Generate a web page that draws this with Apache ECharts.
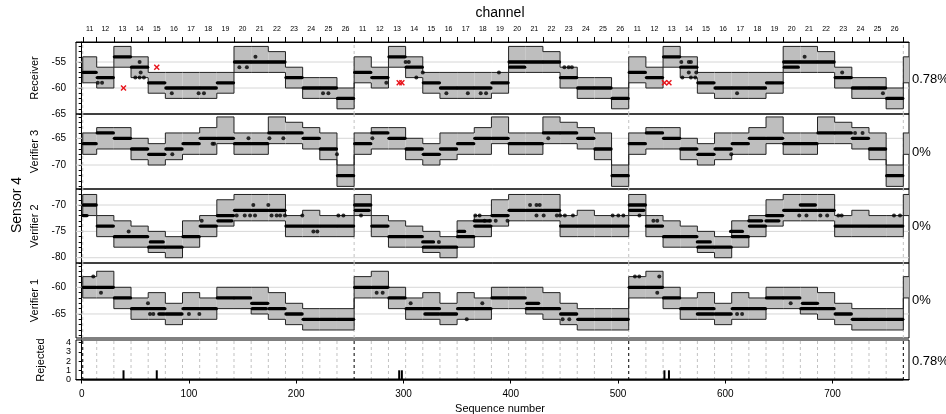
<!DOCTYPE html>
<html>
<head>
<meta charset="utf-8">
<script src="https://cdn.jsdelivr.net/npm/echarts@6/dist/echarts.min.js"></script>
<style>
  html, body { margin: 0; padding: 0; background: #fff; }
  #chart-container { width: 946px; height: 414px; }
</style>
</head>
<body>
<div id="chart-container"></div>
<script>
var dom = document.getElementById("chart-container");
var myChart = echarts.init(dom, null, { renderer: "canvas" });
var FONT = "'Liberation Sans', Arial, sans-serif";

// channel hop order, 16 packets per channel, 3 sweeps + start of a 4th
var channelNames = ["11", "12", "13", "14", "15", "16", "17", "18", "19", "20", "21", "22", "23", "24", "25", "26"];
var segStarts = [1, 14, 30, 46, 62, 78, 94, 110, 126, 142, 158, 174, 190, 206, 222, 238,
  254, 270, 286, 302, 318, 334, 350, 366, 382, 398, 414, 430, 446, 462, 478, 494,
  510, 526, 542, 558, 574, 590, 606, 622, 638, 654, 670, 686, 702, 718, 734, 750, 766];
var segEndLast = 772;
var cycleStarts = [1, 254, 510, 766];
var seqTicks = [0, 100, 200, 300, 400, 500, 600, 700];

// per-channel bands (upper / lower), dBm
var recvHi = [-54, -56, -52, -54, -57, -57, -57, -57, -57, -52, -52, -53, -56, -58, -58, -60];
var recvLo = [-59, -60, -56, -58, -61, -62, -62, -62, -61, -57, -57, -57, -60, -62, -62, -64];
var v3Hi = [-64, -63, -63, -65, -66, -64, -64, -63, -61, -64, -64, -61, -62, -63, -64, -70];
var v3Lo = [-68, -67, -67, -69, -70, -69, -68, -68, -66, -68, -68, -66, -66, -67, -69, -74];
var v2Hi = [-68, -72, -73, -74, -75, -76, -73, -72, -69, -68, -68, -68, -72, -71, -72, -72];
var v2Lo = [-72, -76, -78, -78, -79, -80, -78, -76, -74, -73, -73, -73, -76, -76, -76, -76];
var v1Hi = [-58, -57, -60, -62, -61, -63, -61, -62, -60, -60, -60, -61, -63, -64, -64, -64];
var v1Lo = [-62, -62, -64, -66, -66, -67, -66, -66, -64, -64, -65, -66, -67, -68, -68, -68];

// dominant RSSI per channel visit (48 visits)
var recvModes = [
  -57, -58, -54, -56, -59, -60, -60, -60, -59, -55, -55, -55, -58, -60, -60, -62,
  -57, -58, -54, -56, -59, -60, -60, -60, -59, -55, -55, -55, -58, -60, -60, -62,
  -57, -58, -54, -56, -59, -60, -60, -60, -59, -55, -55, -55, -58, -60, -60, -62];
var v3Modes = [
  -66, -64, -65, -67, -68, -67, -66, -65, -65, -66, -66, -64, -64, -65, -67, -72,
  -66, -64, -65, -67, -68, -67, -66, -65, -65, -66, -66, -64, -64, -65, -67, -72,
  -66, -64, -65, -67, -68, -67, -66, -65, -65, -66, -66, -64, -64, -65, -67, -72];
var v2Modes = [
  -70, -74, -76, -76, -78, -78, -76, -74, -72, -71, -71, -71, -74, -74, -74, -74,
  -70, -74, -76, -76, -78, -78, -76, -74, -72, -71, -71, -71, -74, -74, -74, -74,
  -70, -74, -76, -76, -78, -78, -76, -74, -72, -71, -71, -71, -74, -74, -74, -74];
var v1Modes = [
  -60, -60, -62, -64, -64, -65, -64, -64, -62, -62, -63, -64, -65, -66, -66, -66,
  -60, -60, -62, -64, -64, -65, -64, -64, -62, -62, -64, -64, -65, -66, -66, -66,
  -60, -60, -62, -64, -64, -65, -64, -64, -62, -62, -64, -64, -65, -66, -66, -66];

// secondary dense runs [fromSeq, toSeq, value]
var recvRuns = [[399, 413, -56], [655, 668, -56]];
var v3Runs = [];
var v2Runs = [[1, 5, -72], [64, 76, -77], [127, 140, -73], [255, 268, -71], [318, 328, -77],
  [351, 357, -75], [366, 380, -73], [511, 524, -71], [574, 586, -77], [605, 616, -75],
  [622, 634, -73], [638, 650, -73], [670, 684, -70]];
var v1Runs = [[72, 77, -65], [159, 172, -64], [320, 333, -65], [415, 426, -63], [574, 589, -65], [672, 686, -63]];

// single readings [seq, value]
var recvDots = [[15, -59], [19, -59], [54, -55], [55, -57], [50, -58], [54, -58], [58, -58], [84, -61],
  [109, -61], [114, -61], [147, -56], [154, -56], [162, -54], [225, -61], [230, -61],
  [284, -59], [302, -55], [305, -55], [312, -58], [318, -57], [340, -61], [360, -61], [372, -61],
  [377, -61], [389, -57], [450, -56], [454, -56], [457, -56],
  [559, -55], [566, -55], [568, -55], [566, -57], [573, -57], [560, -58], [568, -58], [572, -58],
  [611, -61], [674, -54], [709, -57], [747, -61]];
var v3Dots = [[84.5, -68], [122, -66], [123.5, -66], [155.5, -65], [175, -65], [188, -65], [238, -68],
  [271, -65], [435, -65], [605.6, -68], [721, -64], [728, -64]];
var v2Dots = [[43.8, -75], [111.9, -73], [144.5, -72], [152, -72], [157, -72], [161.6, -72], [177, -72],
  [181.8, -72], [185, -72], [189.5, -72], [160, -70], [174, -70], [216, -75], [219.7, -75],
  [205.7, -72], [239.3, -72], [244, -72],
  [260.4, -72], [333, -77], [367, -72], [371, -72], [375.6, -73], [380.8, -73], [386, -73], [397, -73],
  [418, -70], [424, -70], [427, -70], [424, -72], [430.7, -72], [443, -72], [446, -72], [450.5, -72],
  [458, -72], [495, -72], [500.3, -72], [505, -72],
  [520, -72], [533, -73], [536.6, -73], [669, -72], [675.7, -72], [688.7, -72], [695, -72],
  [705.4, -72], [708.5, -72], [757.3, -72], [762.9, -72]];
var v1Dots = [[10.8, -58], [18, -61], [61.8, -63], [63.7, -65], [66.8, -65], [100, -65], [109.7, -65],
  [275, -61], [280.6, -61], [306.7, -63], [359, -66], [373.5, -63], [448.4, -66], [454.6, -66],
  [515.8, -58], [519.8, -58], [538.5, -58], [536.6, -61], [611, -65], [615.7, -65], [661, -63]];

// rejected receiver packets
var rejectedPoints = [[39, -60], [70, -56], [296, -59], [298.5, -59], [543.3, -59], [547.5, -59]];
var rejectedSeq = [39, 70, 296, 298.5, 543.3, 547.5];
var rejectedCount = [1, 1, 1, 1, 1, 1];

var panelNames = ["Receiver", "Verifier 3", "Verifier 2", "Verifier 1", "Rejected"];
var rejectedPct = ["0.78%", "0%", "0%", "0%", "0.78%"];

var panels = [
  { hi: recvHi, lo: recvLo, modes: recvModes, runs: recvRuns, dots: recvDots, min: -65, max: -51.15, labels: [-65, -60, -55], grid: [-60, -55] },
  { hi: v3Hi, lo: v3Lo, modes: v3Modes, runs: v3Runs, dots: v3Dots, min: -74.49, max: -60.45, labels: [-70, -65], grid: [-70, -65] },
  { hi: v2Hi, lo: v2Lo, modes: v2Modes, runs: v2Runs, dots: v2Dots, min: -81.0, max: -66.96, labels: [-80, -75, -70], grid: [-80, -75, -70] },
  { hi: v1Hi, lo: v1Lo, modes: v1Modes, runs: v1Runs, dots: v1Dots, min: -69.5, max: -55.45, labels: [-65, -60], grid: [-65, -60] }
];

var gridBoxes = [
  { top: 42, height: 72 },
  { top: 114, height: 75 },
  { top: 189, height: 74 },
  { top: 263, height: 75 },
  { top: 340, height: 40 }
];

var XMIN = -5.3, XMAX = 771.3;

function segEnd(i) {
  return i + 1 < segStarts.length ? segStarts[i + 1] : segEndLast;
}

var segCenters = [];
for (var i = 0; i < 48; i++) segCenters.push((segStarts[i] + segStarts[i + 1]) / 2);

function intTicks(min, max) {
  var out = [];
  for (var v = Math.ceil(min); v <= max; v++) out.push(v);
  return out;
}

var LINE = "#222";

function renderBox(params, api) {
  var s0 = api.value(0), s1 = api.value(1), lo = api.value(2), hi = api.value(3);
  var a = api.coord([s0, hi]), b = api.coord([s1, lo]);
  var yphi = api.coord([s0, api.value(5)])[1];
  var yplo = api.coord([s0, api.value(4)])[1];
  var st = { stroke: LINE, lineWidth: 1, fill: null };
  var kids = [
    { type: "rect", shape: { x: a[0], y: a[1], width: b[0] - a[0], height: b[1] - a[1] }, style: { fill: "#bebebe" } },
    { type: "line", shape: { x1: a[0], y1: a[1], x2: b[0], y2: a[1] }, style: st },
    { type: "line", shape: { x1: a[0], y1: b[1], x2: b[0], y2: b[1] }, style: st }
  ];
  if (api.value(6) === 1) {
    kids.push({ type: "line", shape: { x1: a[0], y1: a[1], x2: a[0], y2: b[1] }, style: st });
  } else {
    kids.push({ type: "line", shape: { x1: a[0], y1: yphi, x2: a[0], y2: a[1] }, style: st });
    kids.push({ type: "line", shape: { x1: a[0], y1: yplo, x2: a[0], y2: b[1] }, style: st });
  }
  return { type: "group", children: kids };
}

function renderRun(params, api) {
  var a = api.coord([api.value(0), api.value(2)]);
  var b = api.coord([api.value(1), api.value(2)]);
  return { type: "line", shape: { x1: a[0], y1: a[1], x2: b[0], y2: b[1] },
    style: { stroke: "#000", lineWidth: 3.3, lineCap: "round" } };
}

function renderCross(params, api) {
  var c = api.coord([api.value(0), api.value(1)]);
  var r = 2.5;
  var st = { stroke: "#e8141c", lineWidth: 1.4 };
  return { type: "group", children: [
    { type: "line", shape: { x1: c[0] - r, y1: c[1] - r, x2: c[0] + r, y2: c[1] + r }, style: st },
    { type: "line", shape: { x1: c[0] - r, y1: c[1] + r, x2: c[0] + r, y2: c[1] - r }, style: st }
  ] };
}

function renderSpike(params, api) {
  var a = api.coord([api.value(0), 0]);
  var b = api.coord([api.value(0), api.value(1)]);
  return { type: "line", shape: { x1: a[0], y1: a[1], x2: b[0], y2: b[1] },
    style: { stroke: "#000", lineWidth: 2 } };
}

// reference lines: [kind, value, colour]; kind 0 = horizontal, 1 = vertical dashed
function makeGuideRenderer(ymin, ymax) {
  return function (params, api) {
    var kind = api.value(0), v = api.value(1);
    var color = api.value(2) === 1 ? "#000" : (kind === 0 ? "#d6d6d6" : "#c2c2c2");
    var a, b;
    if (kind === 0) { a = api.coord([XMIN, v]); b = api.coord([XMAX, v]); }
    else { a = api.coord([v, ymin]); b = api.coord([v, ymax]); }
    return { type: "line", shape: { x1: a[0], y1: a[1], x2: b[0], y2: b[1] },
      style: { stroke: color, lineWidth: 1, lineDash: kind === 0 ? null : [3, 3] } };
  };
}

var grids = [], xAxes = [], yAxes = [], series = [];

gridBoxes.forEach(function (g, gi) {
  grids.push({ left: 76, width: 833, top: g.top, height: g.height, show: true,
    borderColor: "#000", borderWidth: 1, backgroundColor: "transparent" });

  var xa = { type: "value", gridIndex: gi, min: XMIN, max: XMAX, show: gi === 0 || gi === 4,
    position: gi === 0 ? "top" : "bottom", splitLine: { show: false },
    axisLine: { show: true, lineStyle: { color: "#000", width: 1 } } };
  if (gi === 0) {
    xa.axisTick = { show: true, length: 5, lineStyle: { color: "#000" }, customValues: segStarts };
    xa.axisLabel = { customValues: segCenters, fontSize: 7, color: "#000", fontFamily: FONT, margin: 9,
      formatter: function (v) {
        var best = 0;
        for (var k = 0; k < segCenters.length; k++) if (Math.abs(segCenters[k] - v) < Math.abs(segCenters[best] - v)) best = k;
        return channelNames[best % 16];
      } };
  } else {
    xa.axisTick = { show: true, length: 4, lineStyle: { color: "#000" }, customValues: seqTicks };
    xa.axisLabel = { customValues: seqTicks, fontSize: 10, color: "#000", fontFamily: FONT, margin: 9 };
  }
  xAxes.push(xa);

  var p = panels[gi];
  var ymin = p ? p.min : -0.05, ymax = p ? p.max : 4.28;
  yAxes.push({ type: "value", gridIndex: gi, min: ymin, max: ymax,
    name: panelNames[gi], nameLocation: "middle", nameGap: gi === 4 ? 30 : 32,
    nameTextStyle: { fontSize: 11, color: "#000", fontFamily: FONT },
    axisLine: { show: true, lineStyle: { color: "#000" } },
    axisTick: { show: true, length: 3, lineStyle: { color: "#000" }, customValues: intTicks(ymin, ymax) },
    axisLabel: { customValues: p ? p.labels : [0, 1, 2, 3, 4], fontSize: p ? 10 : 9, color: "#000",
      fontFamily: FONT, margin: p ? 10 : 5 },
    splitLine: { show: false } });

  var guides = [];
  if (p) {
    p.grid.forEach(function (v) { guides.push([0, v, 0]); });
    cycleStarts.forEach(function (s) { guides.push([1, s, 0]); });
  } else {
    segStarts.forEach(function (s) { if (cycleStarts.indexOf(s) < 0) guides.push([1, s, 0]); });
    cycleStarts.forEach(function (s) { guides.push([1, s, 1]); });
  }
  series.push({ type: "custom", xAxisIndex: gi, yAxisIndex: gi, z: 1, silent: true, clip: true,
    renderItem: makeGuideRenderer(ymin, ymax), data: guides });

  if (p) {
    var boxes = [];
    for (var i = 0; i < segStarts.length; i++) {
      var ch = i % 16, pc = i > 0 ? (i - 1) % 16 : ch;
      boxes.push([segStarts[i], segEnd(i), p.lo[ch], p.hi[ch], p.lo[pc], p.hi[pc], i === 0 ? 1 : 0]);
    }
    series.push({ type: "custom", xAxisIndex: gi, yAxisIndex: gi, z: 2, clip: true, silent: true,
      renderItem: renderBox, encode: { x: [0, 1], y: [2, 3] }, data: boxes });

    var runs = [];
    for (var j = 0; j < 48; j++) runs.push([segStarts[j] + 0.5, segStarts[j + 1] - 0.5, p.modes[j]]);
    p.runs.forEach(function (r) { runs.push(r); });
    series.push({ type: "custom", xAxisIndex: gi, yAxisIndex: gi, z: 3, clip: true, silent: true,
      renderItem: renderRun, encode: { x: [0, 1], y: 2 }, data: runs });

    series.push({ type: "scatter", xAxisIndex: gi, yAxisIndex: gi, z: 3, silent: true,
      symbol: "circle", symbolSize: 4, itemStyle: { color: "#000" }, data: p.dots });
  }
});

// red crosses: rejected packets in the receiver panel
series.push({ type: "custom", xAxisIndex: 0, yAxisIndex: 0, z: 4, silent: true,
  renderItem: renderCross, encode: { x: 0, y: 1 }, data: rejectedPoints });

// rejected counter
series.push({ type: "line", xAxisIndex: 4, yAxisIndex: 4, z: 3, silent: true, symbol: "none",
  lineStyle: { color: "#000", width: 2 }, data: [[cycleStarts[0], 0], [cycleStarts[3], 0]] });
series.push({ type: "custom", xAxisIndex: 4, yAxisIndex: 4, z: 3, silent: true,
  renderItem: renderSpike, encode: { x: 0, y: 1 },
  data: rejectedSeq.map(function (s, k) { return [s, rejectedCount[k]]; }) });

var pctY = [79, 152.5, 226.5, 300.5, 361];
var graphics = [
  { type: "text", x: 500, y: 13, style: { text: "channel", font: "14px " + FONT, fill: "#000", textAlign: "center", textVerticalAlign: "middle" } },
  { type: "text", x: 500, y: 409, style: { text: "Sequence number", font: "11px " + FONT, fill: "#000", textAlign: "center", textVerticalAlign: "middle" } },
  { type: "text", x: 17, y: 205, rotation: Math.PI / 2, style: { text: "Sensor 4", font: "14px " + FONT, fill: "#000", textAlign: "center", textVerticalAlign: "middle" } }
];
rejectedPct.forEach(function (t, k) {
  graphics.push({ type: "text", x: 912, y: pctY[k], style: { text: t, font: "13px " + FONT, fill: "#000", textAlign: "left", textVerticalAlign: "middle" } });
});

var option = {
  animation: false,
  backgroundColor: "#fff",
  textStyle: { fontFamily: FONT },
  grid: grids,
  xAxis: xAxes,
  yAxis: yAxes,
  series: series,
  graphic: graphics
};

myChart.setOption(option);
window.addEventListener("resize", myChart.resize);
</script>
</body>
</html>
